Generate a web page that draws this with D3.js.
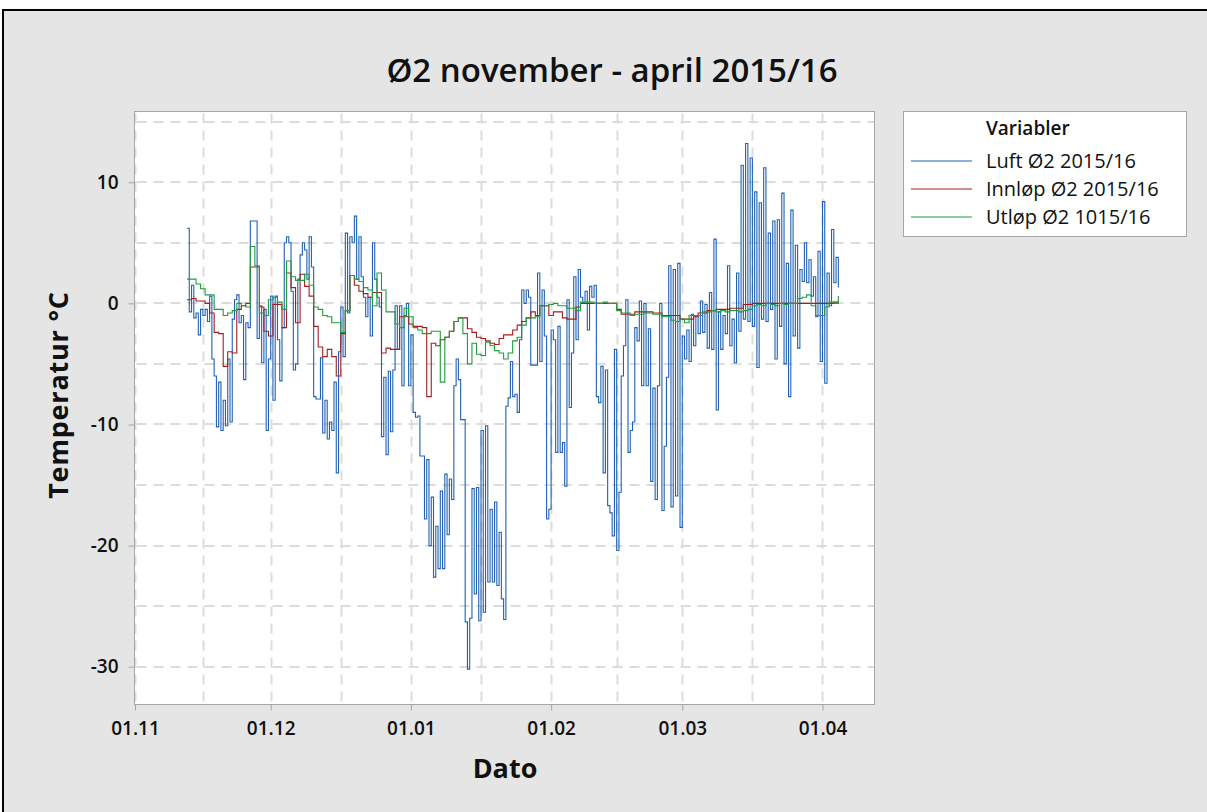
<!DOCTYPE html>
<html>
<head>
<meta charset="utf-8">
<script src="https://cdn.jsdelivr.net/npm/d3@7"></script>
<style>
  body { margin: 0; background: #fff; }
  svg text { font-family: "Open Sans", "Noto Sans", sans-serif; fill: #111; }
</style>
</head>
<body>
<div id="chart"></div>
<script>
// Luft Ø2: readings every 12 hours, each month array starts at its first timestamp
const luftNov = [6.2, -0.7, 1.5, -1.2, -0.8, -2.6, -0.5, -1.0, -0.5, -1.5, 0.6, -4.6, -6.0, -10.2, -6.5, -10.5, -8.0, -10.1, -4.6, -9.8,
  -1.3, 0.3, 0.7, -1.6, -1.0, -6.3, -1.6, -2.0, 6.8, 6.8, 6.8, -2.9, -0.2, -4.9, -0.5, -10.5, -4.6];
const luftDes = [0.6, -8.0, 0.6, -3.0, -6.4, -2.0, 5.0, 5.5, 5.0, 1.0, -5.5, -5.0, 2.0, 4.0, 5.0, 4.4, 2.0, 5.5, 3.0, -7.7,
  -7.9, -7.9, -4.5, -10.7, -8.0, -11.2, -9.8, -10.5, -6.5, -14.0, -4.0, -0.3, -4.4, 5.8, -0.8, 5.5, 5.0, 7.2, 2.0, 5.5,
  2.2, 0.5, -1.1, 0.5, -2.7, 5.0, 2.0, 0.5, -0.3, -11.0, -6.1, -12.5, -5.6, -10.6, -5.5, -0.2, -3.8, -0.2, -6.8, -1.0,
  0.0, -6.8];
const luftJan = [-2.6, -9.0, -9.4, -9.3, -12.6, -12.6, -17.8, -12.9, -20.0, -16.0, -22.6, -18.4, -21.9, -15.5, -21.9, -14.1, -19.1, -14.5, -16.2, -6.8,
  -4.6, -6.3, -9.6, -9.6, -26.3, -30.2, -26.0, -15.3, -24.0, -15.2, -26.2, -10.5, -25.5, -10.1, -23.0, -17.0, -23.0, -16.4, -23.3, -18.9,
  -24.4, -26.1, -8.5, -7.8, -4.8, -7.7, -7.5, -9.0, -3.0, 1.1, 0.0, 1.1, 0.5, -5.1, -5.1, -5.1, 2.5, -4.8, 1.1, -2.7,
  -17.8, -17.0];
const luftFeb = [-2.2, -3.0, -12.3, -1.9, -12.3, -11.5, -15.1, 0.3, -8.6, -4.1, 2.2, -3.0, 2.8, 0.5, 0.0, 1.0, -2.2, 1.4, 0.5, 1.5,
  -7.7, -8.2, -5.2, -14.0, -5.5, -16.7, -17.3, -19.2, -3.8, -20.4, -15.6, -6.0, -3.5, 0.3, -12.3, -10.5, -9.8, -2.0, -3.1, 0.2,
  -6.8, 0.0, -6.8, -2.1, -14.7, -7.0, -16.2, -6.8, 0.0, -17.1, -11.8, -6.1, 3.1, -16.8, 2.8, -15.9, 3.3, -18.5];
const luftMar = [-2.7, -4.6, -2.2, -4.8, -0.9, -3.5, -1.0, -2.5, 0.2, -2.4, -0.1, -3.7, 0.9, -3.8, 5.3, -8.8, -0.7, -3.8, -1.0, -2.5,
  3.1, -3.5, -1.3, -4.9, 2.5, -2.3, 11.4, -1.3, 13.2, -1.5, 12.0, -1.9, 9.2, -5.3, 8.3, -1.3, 11.2, -1.5, 5.8, -0.5,
  6.8, -4.6, 6.9, -1.9, 9.1, -5.0, 3.3, -7.7, 7.7, -2.7, 4.8, -3.7, 2.8, 1.8, 5.0, 1.7, 3.6, 0.6, 2.2, -1.1,
  4.3, -4.8];
const luftApr = [8.4, -6.6, 2.5, -0.2, 6.1, 1.7, 3.8, 1.3];

// Innløp Ø2: daily readings at 12:00
const innlopNov = [0.3, 0.4, 0.2, 0.2, 0.0, -0.8, -2.4, -2.5, -5.2, -4.0, -4.1, -0.5, -0.2, 0.0, 3.0, 3.0, -0.3, -2.3, -2.7];
const innlopDes = [-0.1, -0.1, -2.0, 2.5, 1.3, -1.6, 2.4, 1.4, 0.6, -1.9, -3.6, -4.4, -3.8, -4.4, -6.0, -2.5, -0.6, 2.3, 1.5, 1.0,
  0.8, 0.5, 0.9, 0.9, -4.1, -3.7, -3.8, -3.8, -1.1, -1.1, -1.7];
const innlopJan = [-1.9, -1.9, -2.0, -7.7, -3.3, -3.5, -3.0, -2.8, -2.3, -1.5, -1.2, -1.2, -2.1, -2.4, -2.8, -2.9, -3.1, -3.3, -3.4, -2.9,
  -2.6, -2.6, -2.2, -1.8, -1.5, -1.2, -0.7, -1.0, -0.2, -0.2, -1.0];
const innlopFeb = [-0.7, -0.7, -1.2, -1.3, -1.3, -0.3, 0.0, 0.0, 0.0, 0.0, 0.0, 0.0, 0.0, 0.0, -0.5, -0.9, -0.9, -0.9, -0.7, -0.7,
  -0.7, -0.7, -0.8, -0.8, -1.0, -1.0, -1.0, -1.0, -1.3];
const innlopMar = [-1.3, -1.3, -1.1, -0.8, -0.8, -0.6, -0.6, -0.5, -0.5, -0.5, -0.4, -0.4, -0.4, -0.1, -0.1, 0.0, 0.0, 0.0, 0.0, 0.0,
  0.0, 0.0, 0.0, 0.0, 0.0, 0.0, 0.0, 0.0, 0.0, 0.0, 0.0];
const innlopApr = [0.0, 0.0, 0.1, 0.2];

// Utløp Ø2: daily readings at 12:00
const utlopNov = [2.0, 2.0, 1.6, 1.2, 0.7, 0.7, -0.5, -0.5, -1.0, -0.8, -0.6, 0.0, -0.2, -0.3, 4.7, 3.1, -0.8, -1.0, 0.3];
const utlopDes = [0.5, 0.1, -0.5, 3.5, 2.2, 1.9, 1.9, 2.4, 1.5, -0.3, -0.5, -1.0, -1.1, -1.6, -1.6, -2.4, -0.6, 2.3, 2.0, 1.8,
  1.3, 1.1, -0.2, 2.5, 1.1, -0.7, -0.7, -1.7, -2.0, -0.4, -1.1];
const utlopJan = [-2.0, -2.2, -2.5, -2.5, -2.3, -2.3, -6.5, -2.8, -2.3, -1.5, -1.2, -2.5, -5.0, -3.3, -4.2, -4.3, -3.2, -3.5, -3.9, -4.1,
  -4.6, -4.1, -3.1, -2.8, -1.8, -1.2, -1.2, -1.1, -0.2, -0.2, -0.1];
const utlopFeb = [0.0, -0.2, -0.2, -0.4, -0.4, -0.6, 0.1, 0.1, 0.1, 0.0, 0.0, 0.1, 0.0, 0.0, -0.6, -0.8, -0.8, -1.0, -0.9, -0.9,
  -0.8, -0.8, -0.9, -0.9, -1.1, -1.1, -1.4, -1.5, -1.3];
const utlopMar = [-1.6, -1.0, -1.0, -1.0, -0.7, -0.7, -0.6, -0.7, -0.6, -0.7, -0.6, -0.6, -0.7, -0.6, -0.5, -0.2, -0.1, -0.2, 0.0, -0.1,
  -0.2, 0.0, -0.1, 0.0, 0.0, 0.4, 0.5, 0.7, -0.2, -1.0, -1.0];
const utlopApr = [-0.3, 0.1, 0.0, 0.6];

const seriesNames = ['Luft Ø2 2015/16', 'Innløp Ø2 2015/16', 'Utløp Ø2 1015/16'];
const seriesColors = ['#1f62b3', '#a61c1c', '#1f9d3b'];
const yTicks = [10, 0, -10, -20, -30];
const yGrid = [15, 10, 5, 0, -5, -10, -15, -20, -25, -30];
const monthStarts = [Date.UTC(2015, 10, 1), Date.UTC(2015, 11, 1), Date.UTC(2016, 0, 1), Date.UTC(2016, 1, 1), Date.UTC(2016, 2, 1), Date.UTC(2016, 3, 1)];

// Each block: first timestamp, step in hours, readings
const hour = 3600 * 1000;
function readings(start, stepHours, values) {
  return values.map((v, i) => ({ date: new Date(start + i * stepHours * hour), value: v }));
}
const luft = [].concat(
  readings(Date.UTC(2015, 10, 12, 12), 12, luftNov),
  readings(Date.UTC(2015, 11, 1), 12, luftDes),
  readings(Date.UTC(2016, 0, 1), 12, luftJan),
  readings(Date.UTC(2016, 1, 1), 12, luftFeb),
  readings(Date.UTC(2016, 2, 1), 12, luftMar),
  readings(Date.UTC(2016, 3, 1), 12, luftApr));
const innlop = [].concat(
  readings(Date.UTC(2015, 10, 12, 12), 24, innlopNov),
  readings(Date.UTC(2015, 11, 1, 12), 24, innlopDes),
  readings(Date.UTC(2016, 0, 1, 12), 24, innlopJan),
  readings(Date.UTC(2016, 1, 1, 12), 24, innlopFeb),
  readings(Date.UTC(2016, 2, 1, 12), 24, innlopMar),
  readings(Date.UTC(2016, 3, 1, 12), 24, innlopApr));
const utlop = [].concat(
  readings(Date.UTC(2015, 10, 12, 12), 24, utlopNov),
  readings(Date.UTC(2015, 11, 1, 12), 24, utlopDes),
  readings(Date.UTC(2016, 0, 1, 12), 24, utlopJan),
  readings(Date.UTC(2016, 1, 1, 12), 24, utlopFeb),
  readings(Date.UTC(2016, 2, 1, 12), 24, utlopMar),
  readings(Date.UTC(2016, 3, 1, 12), 24, utlopApr));
const allSeries = [luft, innlop, utlop];

const width = 1207;
const height = 812;
const plot = { left: 134.5, right: 874.5, top: 111.5, bottom: 704.5 };

const svg = d3.select('#chart')
  .append('svg')
    .attr('width', width)
    .attr('height', height);

// Grey frame round the whole graph
svg.append('rect')
    .attr('x', 3)
    .attr('y', 10)
    .attr('width', width + 20)
    .attr('height', height + 20)
    .attr('fill', '#e5e5e5')
    .attr('stroke', '#000')
    .attr('stroke-width', 2);

const x = d3.scaleUtc()
    .domain([new Date(Date.UTC(2015, 10, 1)), new Date(Date.UTC(2016, 3, 12, 12))])
    .range([plot.left + 0.5, plot.right]);

const y = d3.scaleLinear()
    .domain([-33.12, 15.84])
    .range([plot.bottom, plot.top]);

svg.append('rect')
    .attr('x', plot.left)
    .attr('y', plot.top)
    .attr('width', plot.right - plot.left)
    .attr('height', plot.bottom - plot.top)
    .attr('fill', '#fff');

// Gridlines: every month and half month, every 5 degrees
const monthDates = monthStarts.map(t => new Date(t));
const halfMonths = monthDates.slice(0, -1).map((d, i) => new Date((d.getTime() + monthDates[i + 1].getTime()) / 2));
const gridX = monthDates.concat(halfMonths);

svg.append('g')
  .selectAll('line')
  .data(gridX)
  .join('line')
    .attr('x1', d => Math.round(x(d)) + 0.5)
    .attr('x2', d => Math.round(x(d)) + 0.5)
    .attr('y1', plot.top + 2)
    .attr('y2', plot.bottom)
    .attr('stroke', '#dcdcdc')
    .attr('stroke-width', 2)
    .attr('stroke-dasharray', '10,7');

svg.append('g')
  .selectAll('line')
  .data(yGrid)
  .join('line')
    .attr('x1', plot.left + 2)
    .attr('x2', plot.right)
    .attr('y1', d => Math.round(y(d)))
    .attr('y2', d => Math.round(y(d)))
    .attr('stroke', '#dcdcdc')
    .attr('stroke-width', 2)
    .attr('stroke-dasharray', '10,7');

// Series
svg.append('clipPath')
    .attr('id', 'plot-clip')
  .append('rect')
    .attr('x', plot.left)
    .attr('y', plot.top)
    .attr('width', plot.right - plot.left)
    .attr('height', plot.bottom - plot.top);

const line = d3.line()
    .x(d => x(d.date))
    .y(d => y(d.value))
    .curve(d3.curveStepAfter);

svg.append('g')
    .attr('clip-path', 'url(#plot-clip)')
  .selectAll('path')
  .data(allSeries)
  .join('path')
    .attr('d', line)
    .attr('fill', 'none')
    .attr('stroke', (d, i) => seriesColors[i])
    .attr('stroke-width', 1.1);

svg.append('rect')
    .attr('x', plot.left)
    .attr('y', plot.top)
    .attr('width', plot.right - plot.left)
    .attr('height', plot.bottom - plot.top)
    .attr('fill', 'none')
    .attr('stroke', '#a6a6a6')
    .attr('stroke-width', 1);

// Axes
const xAxis = d3.axisBottom(x)
    .tickValues(monthDates)
    .tickFormat(d3.utcFormat('%d.%m'))
    .tickSize(6)
    .tickPadding(11);

const xAxisGroup = svg.append('g')
    .attr('transform', `translate(0,${plot.bottom})`)
    .call(xAxis);

const yAxis = d3.axisLeft(y)
    .tickValues(yTicks)
    .tickFormat(d => String(d))
    .tickSize(6)
    .tickPadding(10);

const yAxisGroup = svg.append('g')
    .attr('transform', `translate(${plot.left},0)`)
    .call(yAxis);

[xAxisGroup, yAxisGroup].forEach(g => {
  g.select('.domain').remove();
  g.selectAll('.tick line').attr('stroke', '#a6a6a6');
  g.selectAll('.tick text')
      .attr('font-size', 19)
      .attr('font-weight', 600)
      .attr('fill', '#111');
});

// Titles
svg.append('text')
    .attr('x', 612)
    .attr('y', 82)
    .attr('text-anchor', 'middle')
    .attr('font-size', 33)
    .attr('font-weight', 600)
    .text('Ø2 november - april 2015/16');

svg.append('text')
    .attr('x', 505)
    .attr('y', 778)
    .attr('text-anchor', 'middle')
    .attr('font-size', 27)
    .attr('font-weight', 700)
    .text('Dato');

svg.append('text')
    .attr('transform', 'translate(68,395) rotate(-90)')
    .attr('text-anchor', 'middle')
    .attr('font-size', 27)
    .attr('font-weight', 700)
    .attr('letter-spacing', 0.8)
    .text('Temperatur °C');

// Legend
const legend = svg.append('g');

legend.append('rect')
    .attr('x', 903.5)
    .attr('y', 111.5)
    .attr('width', 283)
    .attr('height', 125)
    .attr('fill', '#fff')
    .attr('stroke', '#a6a6a6');

legend.append('text')
    .attr('x', 986)
    .attr('y', 135)
    .attr('font-size', 19)
    .attr('font-weight', 600)
    .text('Variabler');

const legendRows = legend.selectAll('.legend-row')
  .data(seriesNames)
  .join('g')
    .attr('class', 'legend-row')
    .attr('transform', (d, i) => `translate(0,${161 + i * 28})`);

legendRows.append('line')
    .attr('x1', 911)
    .attr('x2', 972)
    .attr('stroke', (d, i) => seriesColors[i])
    .attr('stroke-width', 1.2);

legendRows.append('text')
    .attr('x', 986)
    .attr('y', 7)
    .attr('font-size', 20)
    .text(d => d);
</script>
</body>
</html>
